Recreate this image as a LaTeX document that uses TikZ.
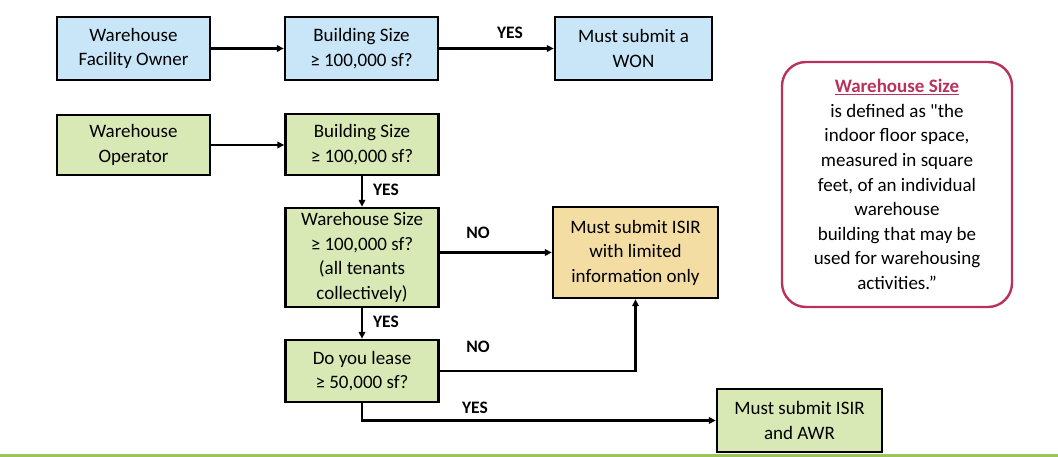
\documentclass[tikz,border=0pt]{standalone}
\usepackage{fontspec}
\setmainfont{Carlito}
\newfontfamily\qfont{Carlito}
\usetikzlibrary{arrows.meta}
\definecolor{bluefill}{HTML}{C8E6F8}
\definecolor{greenfill}{HTML}{D9E9B6}
\definecolor{tanfill}{HTML}{F4DDA3}
\definecolor{defred}{HTML}{B8325C}
\definecolor{barGreen}{HTML}{9BC45A}
\tikzset{
  box/.style={draw=black, line width=2.4pt, inner sep=1pt, align=center,
    font=\fontsize{19}{24.5}\selectfont},
  conn/.style={line width=2.2pt, -{Triangle[length=7pt,width=6.5pt]}},
  lbl/.style={font=\fontsize{17.5}{19}\selectfont\bfseries, inner sep=0pt}
}
\begin{document}
\begin{tikzpicture}[x=1pt,y=-1pt]
\useasboundingbox (0,0) rectangle (1058,457);
% boxes
\node[box, fill=bluefill, minimum width=153pt, minimum height=63pt] (owner) at (133.5,48.5) {Warehouse\\Facility Owner};
\node[box, fill=bluefill, minimum width=153pt, minimum height=63pt] (bs1) at (361.5,48.5) {Building Size\\≥ 100,000 sf?};
\node[box, fill=bluefill, minimum width=157pt, minimum height=63pt] (won) at (633.5,48.5) {Must submit a\\WON};
\node[box, fill=greenfill, minimum width=153pt, minimum height=60pt] (oper) at (133.5,145) {Warehouse\\Operator};
\node[box, fill=greenfill, minimum width=153pt, minimum height=61pt] (bs2) at (362,144.5) {Building Size\\≥ 100,000 sf?};
\node[box, fill=greenfill, minimum width=153pt, minimum height=99pt] (ws) at (362,257.5) {Warehouse Size\\≥ 100,000 sf?\\(all tenants\\collectively)};
\node[box, fill=greenfill, minimum width=153pt, minimum height=62pt] (lease) at (362,371) {Do you lease\\≥ 50,000 sf?};
\node[box, fill=tanfill, minimum width=165pt, minimum height=91pt] (lim) at (635.5,252.5) {Must submit ISIR\\with limited\\information only};
\node[box, fill=greenfill, minimum width=165pt, minimum height=63pt] (awr) at (799.5,420.5) {Must submit ISIR\\and AWR};
% definition box
\node[draw=defred, line width=2.4pt, rounded corners=24pt, minimum width=230pt, minimum height=245pt, align=center, inner sep=0pt,
  font=\fontsize{19}{24.6}\selectfont] (def) at (897,184.5)
  {{\color{defred}\bfseries\underline{Warehouse Size}}\\is defined as {\qfont"}the\\indoor floor space,\\measured in square\\feet, of an individual\\warehouse\\building that may be\\used for warehousing\\activities.”};
% connectors
\draw[conn] (owner) -- (bs1);
\draw[conn] (bs1) -- (won);
\node[lbl] (y1) at (510,33) {YES};
\draw[conn] (oper.east) -- (bs2.west |- oper.east);
\draw[conn] (bs2) -- (ws);
\node[lbl] (y2) at (386,190) {YES};
\draw[conn] (ws.east |- lim.west) -- (lim.west);
\node[lbl] (n1) at (478,233) {NO};
\draw[conn] (ws) -- (lease);
\node[lbl] (y3) at (386,322) {YES};
\coordinate (c1) at (635.5,371);
\draw[conn] (lease.east) -- (c1) -- (lim.south);
\node[lbl] (n2) at (478,347) {NO};
\coordinate (c2) at (362,420.5);
\draw[conn] (lease.south) -- (c2) -- (awr.west);
\node[lbl] (y4) at (475,408) {YES};
% bottom bar
\coordinate (b1) at (0,455.5);
\coordinate (b2) at (1058,455.5);
\draw[barGreen, line width=2.5pt] (b1) -- (b2);
\end{tikzpicture}
\end{document}
